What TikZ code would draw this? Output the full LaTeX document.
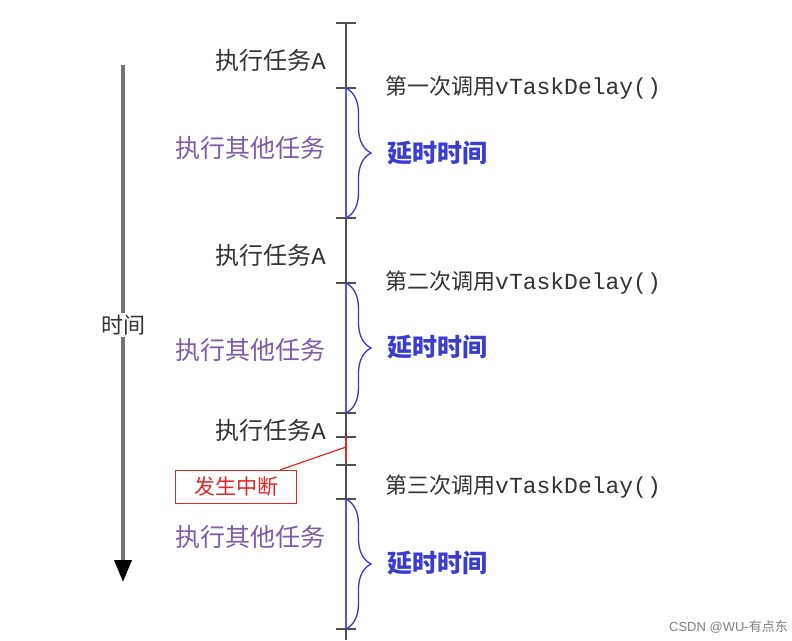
\documentclass[tikz,border=0pt]{standalone}
\usepackage{fontspec}
\setmainfont{Liberation Serif}
\setmonofont{Liberation Mono}
\setsansfont{Liberation Sans}
\newfontfamily\cjk{Noto Sans CJK SC}
\usetikzlibrary{arrows.meta,decorations.pathreplacing}
\definecolor{axisgray}{HTML}{505050}
\definecolor{delayblue}{HTML}{5555F0}
\definecolor{bracblue}{HTML}{3A3AC0}
\definecolor{othpurple}{HTML}{7E5CA8}
\definecolor{txtblue}{HTML}{3C3CD0}
\definecolor{irqred}{HTML}{E02828}
\definecolor{txtgray}{HTML}{333333}

\begin{document}
\begin{tikzpicture}[x=1pt,y=-1pt,
  tick/.style={axisgray,line width=1.8pt},
  runseg/.style={axisgray,line width=1.8pt},
  waitseg/.style={delayblue,line width=1.8pt},
  irqseg/.style={irqred,line width=1.8pt},
  delaybrace/.style={bracblue,line width=1.3pt,decorate,
    decoration={brace,amplitude=25pt}},
  runA/.style={anchor=east,text=txtgray,inner sep=0pt,font=\fontsize{24}{26}\selectfont},
  other/.style={anchor=east,text=othpurple,inner sep=0pt,font=\cjk\fontsize{25}{27}\selectfont},
  call/.style={anchor=west,text=txtgray,inner sep=0pt,font=\fontsize{22}{24}\selectfont},
  delay/.style={anchor=west,text=txtblue,inner sep=0pt,font=\cjk\bfseries\fontsize{25}{27}\selectfont},
  irqbox/.style={draw=irqred,line width=1.3pt,text=irqred,minimum width=121pt,
    minimum height=33pt,inner sep=0pt,font=\cjk\fontsize{21}{23}\selectfont}]
\useasboundingbox[fill=white] (0,0) rectangle (792,640);

% time axis on the left
\node[text=txtgray,fill=white,inner sep=2pt,font=\cjk\fontsize{22}{24}\selectfont] (time) at (123,325) {时间};
\coordinate (timetop) at (123,65);
\coordinate (timeend) at (123,582);
\draw[axisgray!80,line width=3.5pt] (timetop) -- (time.north);
\draw[axisgray!80,line width=3.5pt,-{Triangle[width=17pt,length=22pt,color=black]}] (time.south) -- (timeend);

% ticks on the time line
\foreach \y/\n in {23/t0,88/t1,218/t2,283/t3,413/t4,437/t5,465/t7,499/t8,629/t9}{
  \coordinate (\n) at (346,\y);
  \draw[tick] (336,\y) -- (356,\y);
}
\coordinate (t6) at (346,462);
\coordinate (tend) at (346,640);
\coordinate (hit) at (346,447);

\draw[runseg] (t0) -- (t1);
\draw[waitseg] (t1) -- (t2);
\draw[runseg] (t2) -- (t3);
\draw[waitseg] (t3) -- (t4);
\draw[runseg] (t4) -- (t5);
\draw[irqseg] (t5) -- (t6);
\draw[runseg] (t6) -- (t8);
\draw[waitseg] (t8) -- (t9);
\draw[runseg] (t9) -- (tend);

% delay braces
\draw[delaybrace] (t1) -- (t2);
\draw[delaybrace] (t3) -- (t4);
\draw[delaybrace] (t8) -- (t9);

% labels, left side
\node[runA] (runa) at (326,60) {\cjk 执行任务\ttfamily A};
\node[other] (otha) at (326,148) {执行其他任务};
\node[runA] (runb) at (326,255) {\cjk 执行任务\ttfamily A};
\node[other] (othb) at (326,350) {执行其他任务};
\node[runA] (runc) at (326,430) {\cjk 执行任务\ttfamily A};
\node[other] (othc) at (326,537) {执行其他任务};

% labels, right side
\node[call] (calla) at (385,88) {\cjk 第一次调用\ttfamily\fontsize{23}{25}\selectfont vTaskDelay()};
\node[delay] (dela) at (387,153) {延时时间};
\node[call] (callb) at (385,283) {\cjk 第二次调用\ttfamily\fontsize{23}{25}\selectfont vTaskDelay()};
\node[delay] (delb) at (387,347) {延时时间};
\node[call] (callc) at (385,487) {\cjk 第三次调用\ttfamily\fontsize{23}{25}\selectfont vTaskDelay()};
\node[delay] (delc) at (387,563) {延时时间};

% interrupt
\node[irqbox] (irq) at (236,487) {发生中断};
\draw[irqred,line width=1.2pt] ([xshift=-17pt]irq.north east) -- (hit);

\node[anchor=east,text=gray,inner sep=0pt,font=\sffamily\fontsize{13}{15}\selectfont] (mark) at (788,627) {CSDN @WU-\cjk 有点东};
\end{tikzpicture}
\end{document}
